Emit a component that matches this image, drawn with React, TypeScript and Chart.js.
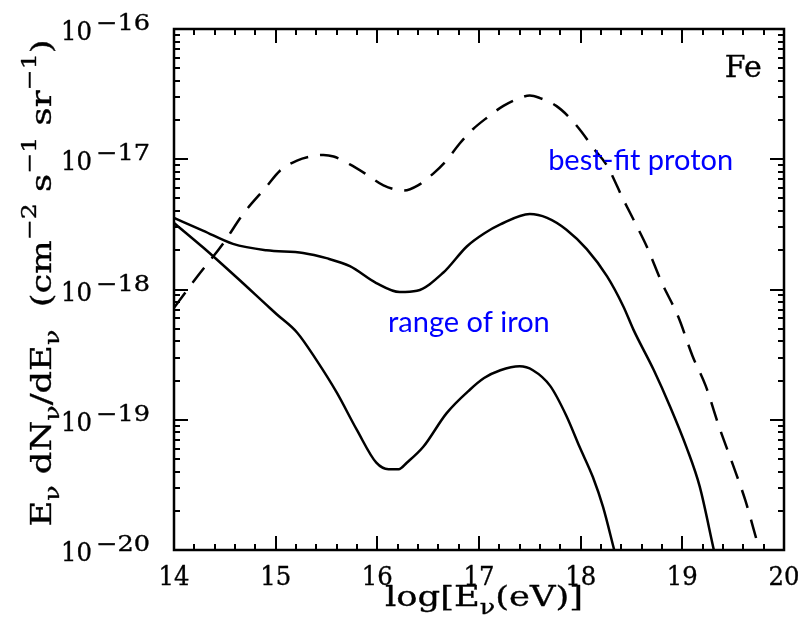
import React, { useEffect, useRef } from 'react';
import { Chart, registerables } from 'chart.js';

Chart.register(...registerables);

// ---- data: log10(E/eV) and E dN/dE (cm^-2 s^-1 sr^-1) ----
const protonLogE = [14.0, 14.22, 14.49, 14.68, 14.91, 15.04, 15.21, 15.37, 15.47, 15.57, 15.73, 15.9, 16.06, 16.26, 16.4, 16.55, 16.68, 16.81, 16.94, 17.08, 17.24, 17.4, 17.5, 17.6, 17.76, 17.89, 18.01, 18.12, 18.26, 18.42, 18.55, 18.65, 18.8, 18.96, 19.1, 19.23, 19.36, 19.49, 19.62, 19.73];
const protonFlux = [7.24e-19, 1.23e-18, 2.29e-18, 3.8e-18, 6.17e-18, 8.13e-18, 9.77e-18, 1.06e-17, 1.08e-17, 1.05e-17, 9.12e-18, 7.59e-18, 6.31e-18, 5.75e-18, 6.31e-18, 7.76e-18, 9.77e-18, 1.32e-17, 1.7e-17, 2.09e-17, 2.57e-17, 2.95e-17, 3.09e-17, 2.95e-17, 2.57e-17, 2.09e-17, 1.62e-17, 1.23e-17, 8.91e-18, 4.9e-18, 3.09e-18, 2.14e-18, 1.12e-18, 6.17e-19, 3.09e-19, 1.82e-19, 8.91e-20, 4.68e-20, 2.4e-20, 1.2e-20];

const ironHighLogE = [14.0, 14.29, 14.58, 14.91, 15.27, 15.5, 15.73, 15.99, 16.22, 16.39, 16.65, 16.88, 17.05, 17.21, 17.5, 17.67, 17.86, 18.06, 18.26, 18.42, 18.52, 18.72, 18.88, 19.04, 19.17, 19.31];
const ironHighFlux = [3.55e-18, 2.82e-18, 2.24e-18, 2.0e-18, 1.91e-18, 1.74e-18, 1.51e-18, 1.12e-18, 9.55e-19, 9.77e-19, 1.35e-18, 2.14e-18, 2.69e-18, 3.16e-18, 3.8e-18, 3.55e-18, 2.88e-18, 2.04e-18, 1.26e-18, 7.41e-19, 4.9e-19, 2.4e-19, 1.26e-19, 6.17e-20, 3.09e-20, 1.0e-20];

const ironLowLogE = [14.0, 14.29, 14.62, 14.94, 15.01, 15.21, 15.4, 15.6, 15.8, 15.99, 16.11, 16.21, 16.29, 16.45, 16.68, 16.91, 17.05, 17.21, 17.4, 17.53, 17.7, 17.86, 17.99, 18.12, 18.22, 18.33];
const ironLowFlux = [3.24e-18, 2.09e-18, 1.23e-18, 7.24e-19, 6.46e-19, 4.68e-19, 2.88e-19, 1.62e-19, 8.32e-20, 4.68e-20, 4.17e-20, 4.17e-20, 4.68e-20, 6.17e-20, 1.12e-19, 1.7e-19, 2.09e-19, 2.4e-19, 2.57e-19, 2.4e-19, 1.82e-19, 1.07e-19, 6.17e-20, 3.63e-20, 2.14e-20, 1.0e-20];

const xTickValues = [14, 15, 16, 17, 18, 19, 20];
const yTickExponents = [-16, -17, -18, -19, -20];

const annoFe = { text: 'Fe', x: 19.78, y: 4.27e-17 };
const annoProton = { text: 'best-fit proton', x: 17.68, y: 8.2e-18 };
const annoIron = { text: 'range of iron', x: 16.105, y: 4.7e-19 };

type Seg = { t: string; k: 'n' | 'sub' | 'sup' };

const SERIF = '"DejaVu Serif", serif';
const BLUE_FONT = '29px Lato, "Open Sans", sans-serif';

function segFont(size: number, k: string) {
  const s = k === 'n' ? size : Math.round(size * 0.72);
  return `${s}px ${SERIF}`;
}

function boldText(ctx: CanvasRenderingContext2D, t: string, x: number, y: number) {
  ctx.fillText(t, x, y);
  ctx.strokeText(t, x, y);
}

function drawRich(
  ctx: CanvasRenderingContext2D,
  segs: Seg[],
  o: { size: number; x: number; y: number; align: 'left' | 'center' | 'right'; fit?: number; rotate?: boolean }
) {
  let total = 0;
  const widths: number[] = [];
  for (const s of segs) {
    ctx.font = segFont(o.size, s.k);
    const w = ctx.measureText(s.t).width;
    widths.push(w);
    total += w;
  }
  const sx = o.fit ? o.fit / total : 1;
  ctx.save();
  ctx.translate(o.x, o.y);
  if (o.rotate) ctx.rotate(-Math.PI / 2);
  ctx.scale(sx, 1);
  let cx = o.align === 'left' ? 0 : o.align === 'center' ? -total / 2 : -total;
  ctx.textAlign = 'left';
  ctx.textBaseline = 'alphabetic';
  segs.forEach((s, i) => {
    ctx.font = segFont(o.size, s.k);
    const dy = s.k === 'sub' ? o.size * 0.28 : s.k === 'sup' ? -o.size * 0.55 : 0;
    boldText(ctx, s.t, cx, dy);
    cx += widths[i];
  });
  ctx.restore();
}

const framePlugin = {
  id: 'frame',
  afterDraw(chart: any) {
    const { ctx, chartArea: a, scales } = chart;
    const xs = scales.x;
    const ys = scales.y;
    ctx.save();
    ctx.strokeStyle = '#000';
    ctx.fillStyle = '#000';
    ctx.lineWidth = 2.5;
    ctx.strokeRect(a.left, a.top, a.right - a.left, a.bottom - a.top);

    const MAJ = 14;
    const MIN = 6;
    ctx.lineWidth = 2;
    ctx.beginPath();
    for (let i = 0; i <= 30; i++) {
      const v = 14 + i * 0.2;
      const px = Math.round(xs.getPixelForValue(v));
      const len = i % 5 === 0 ? MAJ : MIN;
      ctx.moveTo(px, a.bottom);
      ctx.lineTo(px, a.bottom - len);
      ctx.moveTo(px, a.top);
      ctx.lineTo(px, a.top + len);
    }
    for (let e = -20; e <= -16; e++) {
      for (let m = 1; m <= 9; m++) {
        if (e === -16 && m > 1) break;
        const v = m * Math.pow(10, e);
        const py = Math.round(ys.getPixelForValue(v));
        const len = m === 1 ? MAJ : MIN;
        ctx.moveTo(a.left, py);
        ctx.lineTo(a.left + len, py);
        ctx.moveTo(a.right, py);
        ctx.lineTo(a.right - len, py);
      }
    }
    ctx.stroke();

    // text weight emulation
    ctx.lineWidth = 0.35;
    ctx.lineJoin = 'round';

    // x tick labels
    ctx.font = `26px ${SERIF}`;
    ctx.textAlign = 'center';
    ctx.textBaseline = 'alphabetic';
    for (const v of xTickValues) {
      const label = String(v);
      const w = ctx.measureText(label).width;
      ctx.save();
      ctx.translate(xs.getPixelForValue(v), a.bottom + 35);
      ctx.scale(31 / w, 1);
      boldText(ctx, label, 0, 0);
      ctx.restore();
    }

    // y tick labels 10^e
    for (const e of yTickExponents) {
      const py = ys.getPixelForValue(Math.pow(10, e));
      const expText = '\u2212' + String(-e);
      ctx.font = `22px ${SERIF}`;
      const ew = ctx.measureText(expText).width;
      const expRight = a.left - 24;
      ctx.save();
      ctx.translate(expRight, py + 1);
      ctx.scale(54 / ew, 1);
      ctx.textAlign = 'right';
      boldText(ctx, expText, 0, 0);
      ctx.restore();
      ctx.font = `26px ${SERIF}`;
      ctx.textAlign = 'right';
      const bw = ctx.measureText('10').width;
      ctx.save();
      ctx.translate(expRight - 54 - 4, py + 11);
      ctx.scale(31 / bw, 1);
      boldText(ctx, '10', 0, 0);
      ctx.restore();
    }

    // axis titles
    drawRich(
      ctx,
      [
        { t: 'log[E', k: 'n' },
        { t: '\u03bd', k: 'sub' },
        { t: '(eV)]', k: 'n' },
      ],
      { size: 28, x: (a.left + a.right) / 2 + 5, y: a.bottom + 56, align: 'center', fit: 198 }
    );
    drawRich(
      ctx,
      [
        { t: 'E', k: 'n' },
        { t: '\u03bd', k: 'sub' },
        { t: ' dN', k: 'n' },
        { t: '\u03bd', k: 'sub' },
        { t: '/dE', k: 'n' },
        { t: '\u03bd', k: 'sub' },
        { t: '  (cm', k: 'n' },
        { t: '\u22122', k: 'sup' },
        { t: ' s', k: 'n' },
        { t: '\u22121', k: 'sup' },
        { t: ' sr', k: 'n' },
        { t: '\u22121', k: 'sup' },
        { t: ')', k: 'n' },
      ],
      { size: 28, x: 51, y: 283, align: 'center', fit: 487, rotate: true }
    );

    // annotations
    ctx.textAlign = 'right';
    ctx.fillStyle = '#000';
    ctx.font = `30px ${SERIF}`;
    boldText(ctx, annoFe.text, xs.getPixelForValue(annoFe.x), ys.getPixelForValue(annoFe.y));

    ctx.fillStyle = '#0000ff';
    ctx.textAlign = 'left';
    ctx.font = BLUE_FONT;
    ctx.fillText(annoProton.text, xs.getPixelForValue(annoProton.x), ys.getPixelForValue(annoProton.y));
    ctx.fillText(annoIron.text, xs.getPixelForValue(annoIron.x), ys.getPixelForValue(annoIron.y));
    ctx.restore();
  },
};

function toPoints(xs: number[], ys: number[]) {
  return xs.map((x, i) => ({ x, y: ys[i] }));
}

export default function App() {
  const ref = useRef<HTMLCanvasElement | null>(null);
  useEffect(() => {
    if (!ref.current) return;
    const common = {
      borderColor: '#000',
      borderWidth: 2.5,
      pointRadius: 0,
      fill: false,
      cubicInterpolationMode: 'monotone' as const,
    };
    const chart = new Chart(ref.current, {
      type: 'line',
      data: {
        datasets: [
          { ...common, label: 'best-fit proton', data: toPoints(protonLogE, protonFlux), borderDash: [19, 12] },
          { ...common, label: 'iron (upper)', data: toPoints(ironHighLogE, ironHighFlux) },
          { ...common, label: 'iron (lower)', data: toPoints(ironLowLogE, ironLowFlux) },
        ],
      },
      options: {
        animation: false,
        responsive: true,
        maintainAspectRatio: false,
        parsing: false,
        layout: { padding: { left: 174, right: 27, top: 29, bottom: 86 } },
        scales: {
          x: { type: 'linear', min: 14, max: 20, display: false },
          y: { type: 'logarithmic', min: 1e-20, max: 1e-16, display: false },
        },
        plugins: { legend: { display: false }, tooltip: { enabled: false } },
      },
      plugins: [framePlugin],
    } as any);
    return () => chart.destroy();
  }, []);
  return (
    <div style={{ position: 'absolute', left: 0, top: 0, width: 811, height: 636, background: '#fff' }}>
      <canvas ref={ref} />
    </div>
  );
}
